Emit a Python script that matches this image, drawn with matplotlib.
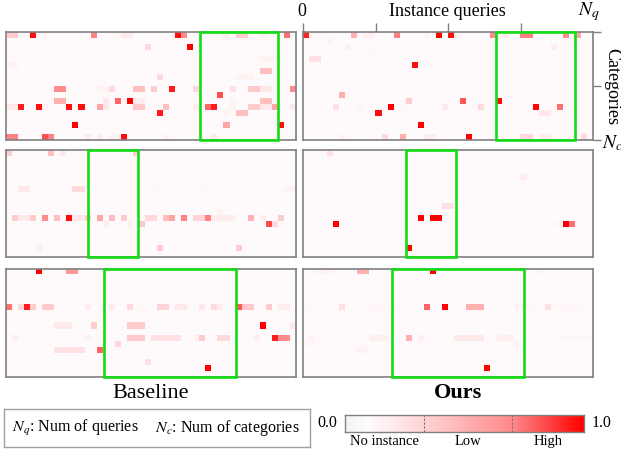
import numpy as np
import matplotlib
matplotlib.use("Agg")
import matplotlib.pyplot as plt
from matplotlib.colors import LinearSegmentedColormap
from matplotlib.patches import Rectangle

plt.rcParams['font.family'] = ['Liberation Serif', 'DejaVu Serif']
plt.rcParams['mathtext.fontset'] = 'stix'

N_ROWS, N_COLS = 18, 48
BG = 0.1  # "no instance" level

# (row, first col, last col, value) runs of non-background cells
baseline_top = [
    (0,0,1,0.37),(0,4,4,0.97),(0,6,6,0.13),(0,14,14,0.72),(0,17,18,0.13),(0,19,20,0.18),
    (0,28,28,0.97),(0,29,29,0.69),(0,36,36,0.18),(0,38,39,0.37),(0,42,42,0.15),(0,46,46,0.75),
    (2,23,23,0.30),(2,30,30,1.0),(3,3,3,0.12),(3,12,12,0.12),(4,42,44,0.15),
    (5,0,1,0.15),(5,6,7,0.13),(5,15,15,0.12),(6,42,43,0.43),(7,25,25,0.30),(7,38,40,0.15),
    (9,8,9,0.69),(9,15,16,0.15),(9,17,17,0.30),(9,21,22,0.43),(9,24,24,0.37),(9,27,27,0.94),
    (9,31,31,0.30),(9,37,37,0.25),(9,40,41,0.39),(9,42,43,0.21),(9,47,47,0.69),
    (10,35,35,0.83),
    (11,8,9,0.50),(11,16,16,0.21),(11,18,18,0.78),(11,20,20,1.0),(11,21,22,0.18),(11,37,37,0.15),
    (11,42,43,0.43),
    (12,0,1,0.21),(12,2,2,0.94),(12,5,5,0.97),(12,6,6,0.15),(12,10,10,0.97),(12,12,12,0.97),
    (12,15,15,0.56),(12,16,16,0.21),(12,21,22,0.39),(12,26,26,0.43),(12,31,31,0.18),
    (12,33,33,0.78),(12,34,34,0.94),(12,37,37,0.15),(12,40,41,0.37),(12,42,43,0.21),
    (12,44,44,0.56),(12,47,47,0.21),
    (13,25,25,0.94),(13,36,36,0.15),(13,38,39,0.43),(14,7,7,0.12),
    (15,11,11,1.0),(15,36,36,0.56),(15,45,45,0.97),
    (17,0,1,0.72),(17,6,6,0.83),(17,7,7,0.72),(17,13,13,0.21),(17,15,15,0.18),(17,17,18,0.15),
    (17,19,19,0.97),(17,26,26,0.15),(17,34,34,0.21),
]
ours_top = [
    (0,0,0,0.92),(0,1,3,0.13),(0,8,8,0.50),(0,10,11,0.17),(0,15,15,0.72),(0,20,20,0.15),
    (0,22,22,1.0),(0,24,24,0.97),(0,25,25,0.15),(0,31,31,0.69),(0,33,33,0.18),(0,36,37,0.72),
    (0,43,43,0.69),(0,45,45,0.56),
    (1,4,4,0.15),(2,7,7,0.17),(2,41,41,0.18),(2,44,44,0.13),(3,11,11,0.13),
    (4,1,2,0.25),(4,5,5,0.12),(5,18,18,0.97),(9,1,1,0.12),(9,25,25,0.13),(10,6,6,0.50),
    (11,17,17,0.37),(11,26,26,0.81),(11,32,32,0.97),
    (12,5,5,0.25),(12,9,9,0.15),(12,14,14,1.0),(12,16,16,0.13),(12,23,23,0.21),(12,28,28,0.13),
    (12,29,29,0.30),(12,34,34,0.13),(12,38,38,1.0),(12,42,42,0.75),
    (13,12,12,0.97),(13,39,40,0.21),(15,19,19,1.0),
    (17,6,6,0.15),(17,13,13,0.30),(17,16,16,0.50),(17,20,21,0.18),(17,27,27,1.0),
    (17,36,37,0.30),(17,39,40,0.18),(17,46,46,0.30),
]
baseline_mid = [
    (0,0,0,0.37),(0,7,7,0.43),(0,9,9,0.21),(0,21,21,0.37),
    (6,2,3,0.21),(6,11,12,0.30),(6,24,24,0.13),(6,32,32,0.13),(6,46,47,0.15),(10,35,35,0.15),
    (11,1,1,0.37),(11,2,3,0.21),(11,4,4,0.37),(11,6,6,0.69),(11,8,8,0.43),(11,10,10,0.97),
    (11,11,12,0.21),(11,13,13,0.37),(11,15,15,0.56),(11,17,17,0.43),(11,19,19,0.37),
    (11,23,24,0.30),(11,26,26,0.43),(11,27,27,0.56),(11,29,29,0.72),(11,31,32,0.33),
    (11,33,33,0.72),(11,34,37,0.18),(11,40,40,0.50),(11,42,42,0.18),(11,45,45,0.37),
    (12,16,16,0.18),(12,20,20,0.15),(12,22,22,0.39),(12,43,43,0.83),(12,44,44,0.30),
    (16,5,5,0.18),(16,25,25,0.37),(16,38,38,0.37),
]
ours_mid = [
    (0,4,4,0.25),(1,4,4,0.13),(4,36,36,0.18),(6,11,12,0.12),(8,20,21,0.12),(9,23,24,0.25),
    (11,19,19,1.0),(11,21,22,1.0),
    (12,5,5,1.0),(12,40,42,0.13),(12,43,43,1.0),(12,44,44,0.75),
    (14,15,16,0.12),(16,17,17,1.0),(17,3,3,0.12),(17,29,29,0.12),
]
baseline_bot = [
    (0,5,5,1.0),(0,10,11,0.62),
    (6,0,0,0.75),(6,2,2,0.30),(6,3,3,0.94),(6,4,4,0.37),(6,6,7,0.37),(6,13,13,0.18),
    (6,17,17,0.18),(6,20,20,0.30),(6,22,22,0.13),(6,25,26,0.33),(6,28,29,0.21),(6,32,32,0.21),
    (6,34,34,0.30),(6,35,35,0.18),(6,38,38,0.81),(6,39,40,0.39),(6,43,43,0.37),(6,45,46,0.18),
    (9,8,10,0.21),(9,14,14,0.37),(9,20,22,0.37),(9,42,42,1.0),(9,47,47,0.21),
    (11,1,1,0.18),(11,13,13,0.15),(11,20,22,0.39),(11,24,28,0.25),(11,31,31,0.15),
    (11,32,32,0.37),(11,35,36,0.30),(11,41,41,0.18),(11,44,44,0.94),(11,45,46,0.69),
    (12,18,18,0.30),(13,8,12,0.25),(13,15,15,0.78),(15,23,23,0.25),(16,33,33,1.0),
]
ours_bot = [
    (0,2,4,0.15),(0,9,10,0.50),(0,21,21,1.0),(0,24,24,0.13),(0,39,39,0.15),
    (6,0,0,0.13),(6,6,6,0.25),(6,9,9,0.12),(6,11,15,0.13),(6,20,20,0.78),(6,23,23,1.0),
    (6,27,29,0.50),(6,35,36,0.15),(6,37,37,0.13),(6,40,40,0.25),(6,42,45,0.13),
    (9,32,32,0.12),
    (11,1,1,0.15),(11,5,5,0.12),(11,7,7,0.12),(11,11,13,0.17),(11,17,17,0.50),(11,19,19,0.17),
    (11,25,29,0.21),(11,31,31,0.12),(11,32,34,0.17),(11,37,37,0.12),(11,42,47,0.13),
    (12,0,1,0.13),(12,35,35,0.15),(13,9,10,0.15),(16,30,30,1.0),
]

# highlighted query spans (in query-column units)
highlights = {
    'baseline_top': (32.1, 45.1), 'ours_top': (31.9, 45.0),
    'baseline_mid': (13.5, 21.8), 'ours_mid': (17.0, 25.3),
    'baseline_bot': (16.3, 38.0), 'ours_bot': (14.8, 36.5),
}

cb_ticks = [0.0, 1.0]
cb_dividers = [0.33, 0.70]
cb_labels = ['No instance', 'Low', 'High']

cmap = LinearSegmentedColormap.from_list('inst', [
    (0.0, '#f2f3f8'), (0.1, '#fffbfc'), (0.33, '#ffd4d6'), (0.7, '#ff8a8a'), (1.0, '#ff0000')])

W, H = 621, 450
fig = plt.figure(figsize=(W / 100, H / 100), dpi=100)

def fr(x0, y0, x1, y1):
    return [x0 / W, 1 - y1 / H, (x1 - x0) / W, (y1 - y0) / H]

col_x = [(6, 296), (303, 593)]
row_y = [(32, 140), (150, 257), (269, 377)]
panels = [[('baseline_top', baseline_top), ('ours_top', ours_top)],
          [('baseline_mid', baseline_mid), ('ours_mid', ours_mid)],
          [('baseline_bot', baseline_bot), ('ours_bot', ours_bot)]]

spine_c = '#808080'
green = '#14dc14'
axes = {}
for ri, row in enumerate(panels):
    for ci, (name, runs) in enumerate(row):
        ax = fig.add_axes(fr(col_x[ci][0], row_y[ri][0], col_x[ci][1], row_y[ri][1]))
        grid = np.full((N_ROWS, N_COLS), BG)
        for r, c0, c1, v in runs:
            grid[r, c0:c1 + 1] = v
        ax.imshow(grid, cmap=cmap, vmin=0, vmax=1, aspect='auto',
                  extent=(0, N_COLS, N_ROWS, 0), interpolation='nearest')
        ax.set_xlim(0, N_COLS)
        ax.set_ylim(N_ROWS, 0)
        ax.set_xticks([])
        ax.set_yticks([])
        for s in ax.spines.values():
            s.set_color(spine_c)
            s.set_linewidth(1.2)
        h0, h1 = highlights[name]
        ax.add_patch(Rectangle((h0, 0), h1 - h0, N_ROWS, fill=False, edgecolor=green,
                               linewidth=1.9, clip_on=False, zorder=5))
        axes[name] = ax

# axis decorations on the top-right panel
ax = axes['ours_top']
ax.xaxis.tick_top()
ax.set_xticks([0, 12, 24, 36])
ax.set_xticklabels([])
ax.tick_params(axis='x', direction='out', length=6.5, width=1.0, color=spine_c)
ax.yaxis.tick_right()
ax.set_yticks([0, 9, 18])
ax.set_yticklabels([])
ax.tick_params(axis='y', direction='out', length=6, width=1.0, color=spine_c)

fig.text(302 / W, 1 - 12 / H, '0', ha='center', va='center', fontsize=13)
fig.text(447 / W, 1 - 12 / H, 'Instance queries', ha='center', va='center', fontsize=13)
fig.text(589 / W, 1 - 12 / H, r'$N_q$', ha='center', va='center', fontsize=14)
fig.text(612 / W, 1 - 86 / H, 'Categories', ha='center', va='center', fontsize=13, rotation=270)
fig.text(602 / W, 1 - 143 / H, r'$N_c$', ha='left', va='center', fontsize=14)

# column titles
fig.text(151 / W, 1 - 393 / H, 'Baseline', ha='center', va='center', fontsize=16)
fig.text(458 / W, 1 - 393 / H, 'Ours', ha='center', va='center', fontsize=16, fontweight='bold')

# legend box
lax = fig.add_axes(fr(4, 409, 310, 447))
lax.set_xticks([]); lax.set_yticks([])
for s in lax.spines.values():
    s.set_color('#a0a0a0'); s.set_linewidth(1.0)
lax.text(8 / 306, 0.5, r'$N_q$: Num of queries', ha='left', va='center', fontsize=11.5,
         transform=lax.transAxes)
lax.text(151 / 306, 0.5, r'$N_c$: Num of categories', ha='left', va='center', fontsize=11.5,
         transform=lax.transAxes)

# colorbar
cax = fig.add_axes(fr(345, 415, 584, 431.5))
grad = np.linspace(0, 1, 256)[None, :]
cax.imshow(grad, cmap=cmap, vmin=0, vmax=1, aspect='auto', extent=(0, 1, 0, 1))
cax.set_xlim(0, 1); cax.set_ylim(0, 1)
cax.set_xticks([]); cax.set_yticks([])
for s in cax.spines.values():
    s.set_color(spine_c); s.set_linewidth(1.0)
for d in cb_dividers:
    cax.axvline(d, color='#707070', linestyle=(0, (2, 1.5)), linewidth=0.8)
fig.text(327 / W, 1 - 423 / H, f'{cb_ticks[0]:.1f}', ha='center', va='center', fontsize=11.5)
fig.text(602 / W, 1 - 423 / H, f'{cb_ticks[1]:.1f}', ha='center', va='center', fontsize=11.5)
edges = [0.0] + cb_dividers + [1.0]
for i, lab in enumerate(cb_labels):
    xc = (edges[i] + edges[i + 1]) / 2
    cax.text(xc, -0.2, lab, ha='center', va='top', fontsize=10.5, transform=cax.transAxes)

fig.savefig('out.png', dpi=100)
